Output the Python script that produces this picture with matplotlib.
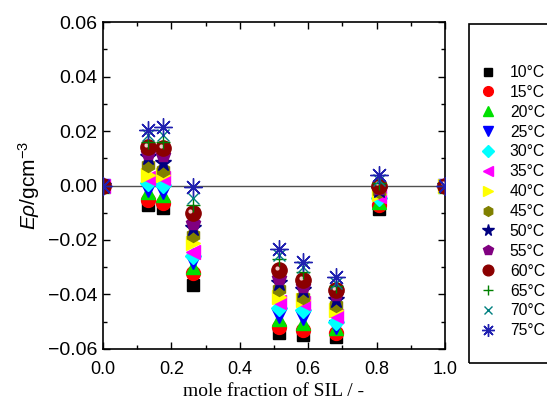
import matplotlib
matplotlib.use("Agg")
import matplotlib.pyplot as plt
import matplotlib.transforms as mtransforms
from matplotlib.patches import Rectangle
from matplotlib.ticker import MultipleLocator

plt.rcParams['font.family'] = ['Liberation Sans', 'DejaVu Sans']
plt.rcParams['mathtext.fontset'] = 'custom'
plt.rcParams['mathtext.rm'] = 'Liberation Sans'
plt.rcParams['mathtext.it'] = 'Liberation Sans:italic'

# mole fraction of SIL for each measured mixture
x_sil = [0.0, 0.132, 0.175, 0.262, 0.515, 0.585, 0.681, 0.807, 1.0]

temps = ["10", "15", "20", "25", "30", "35", "40", "45", "50", "55", "60", "65", "70", "75"]

# excess density E_rho (g cm^-3) per temperature
e_10 = [0.0, -0.0070, -0.0083, -0.0365, -0.0540, -0.0549, -0.0556, -0.0085, 0.0]
e_15 = [0.0, -0.0053, -0.0065, -0.0320, -0.0520, -0.0530, -0.0540, -0.0070, 0.0]
e_20 = [0.0, -0.0023, -0.0035, -0.0300, -0.0490, -0.0505, -0.0523, -0.0060, 0.0]
e_25 = [0.0, -0.0017, -0.0023, -0.0280, -0.0480, -0.0486, -0.0520, -0.0050, 0.0]
e_30 = [0.0, 0.0010, 0.0002, -0.0260, -0.0450, -0.0457, -0.0500, -0.0045, 0.0]
e_35 = [0.0, 0.0028, 0.0028, -0.0244, -0.0427, -0.0430, -0.0480, -0.0040, 0.0]
e_40 = [0.0, 0.0039, 0.0039, -0.0210, -0.0410, -0.0420, -0.0457, -0.0030, 0.0]
e_45 = [0.0, 0.0075, 0.0057, -0.0180, -0.0380, -0.0410, -0.0439, -0.0020, 0.0]
e_50 = [0.0, 0.0106, 0.0083, -0.0155, -0.0358, -0.0384, -0.0420, -0.0015, 0.0]
e_55 = [0.0, 0.0120, 0.0112, -0.0138, -0.0340, -0.0370, -0.0400, -0.0010, 0.0]
e_60 = [0.0, 0.0142, 0.0137, -0.0101, -0.0310, -0.0347, -0.0384, 0.0000, 0.0]
e_65 = [0.0, 0.0160, 0.0160, -0.0070, -0.0270, -0.0317, -0.0370, 0.0010, 0.0]
e_70 = [0.0, 0.0185, 0.0185, -0.0046, -0.0255, -0.0300, -0.0358, 0.0020, 0.0]
e_75 = [0.0, 0.0204, 0.0216, -0.0006, -0.0233, -0.0280, -0.0336, 0.0040, 0.0]

series = [e_10, e_15, e_20, e_25, e_30, e_35, e_40, e_45, e_50, e_55, e_60, e_65, e_70, e_75]

styles = [
    dict(marker='s', color='black', ms=8.5),
    dict(marker='o', color='red', ms=10),
    dict(marker='^', color='#00e000', ms=10),
    dict(marker='v', color='blue', ms=10),
    dict(marker='D', color='cyan', ms=8.5),
    dict(marker='<', color='magenta', ms=10),
    dict(marker='>', color='yellow', ms=10),
    dict(marker='h', color='#808000', ms=10),
    dict(marker='*', color='#000080', ms=12),
    dict(marker='p', color='#800080', ms=11),
    dict(marker='o', color='#8b0000', ms=11),
    dict(marker='+', color='#008000', ms=10, mew=1),
    dict(marker='x', color='#008080', ms=9, mew=1),
    dict(marker=(8, 2, 0), color='#2020b0', ms=13, mew=1),
]

fig = plt.figure(figsize=(5.47, 4.03), dpi=100)
ax = fig.add_axes([0.1883, 0.134, 0.625, 0.8114])

ax.axhline(0.0, color='#505050', lw=1.0, zorder=1)

handles = []
for t, e, st in zip(temps, series, styles):
    h, = ax.plot(x_sil, e, ls='none', mec=st['color'], mfc=st['color'],
                 marker=st['marker'], ms=st['ms'], mew=st.get('mew', 1),
                 label=t + "°C", zorder=3)
    handles.append(h)
    if t == "60":
        # small highlight on the shaded spheres
        off = mtransforms.offset_copy(ax.transData, fig=fig, x=-1.5, y=1.5, units='points')
        ax.plot(x_sil, e, ls='none', marker='o', ms=3, mfc='#f0c8c8', mec='none',
                transform=off, zorder=3)

ax.set_xlim(0.0, 1.0)
ax.set_ylim(-0.06, 0.06)
ax.xaxis.set_major_locator(MultipleLocator(0.2))
ax.xaxis.set_minor_locator(MultipleLocator(0.1))
ax.yaxis.set_major_locator(MultipleLocator(0.02))
ax.yaxis.set_minor_locator(MultipleLocator(0.01))
ax.set_yticklabels([f"{v:.2f}".replace("-", "\u2212") for v in ax.get_yticks()])
ax.set_xticklabels([f"{v:.1f}" for v in ax.get_xticks()])
ax.tick_params(which='both', direction='in', top=True, right=True, width=1)
ax.tick_params(which='major', length=5)
ax.tick_params(which='minor', length=3)
ax.tick_params(axis='y', labelsize=14, pad=4)
ax.tick_params(axis='x', labelsize=13, pad=9)
for sp in ax.spines.values():
    sp.set_linewidth(1.2)

ax.set_xlabel("mole fraction of SIL / -", family='Liberation Serif', fontsize=14, labelpad=3)
ax.set_ylabel(r"$E\rho$/gcm$^{-3}$", fontsize=15, labelpad=4)

# legend box running off the right edge
fig.patches.append(Rectangle((469 / 547, 40 / 403), 0.2, 339 / 403, transform=fig.transFigure,
                             fill=False, edgecolor='black', lw=1.2))
fig.legend(handles=handles, loc='upper left', bbox_to_anchor=(480 / 547, 338 / 403),
           frameon=False, fontsize=11.3, markerscale=0.7, handlelength=1.0,
           handletextpad=0.9, labelspacing=0.31, borderpad=0, borderaxespad=0)

fig.savefig("out.png", dpi=100)
